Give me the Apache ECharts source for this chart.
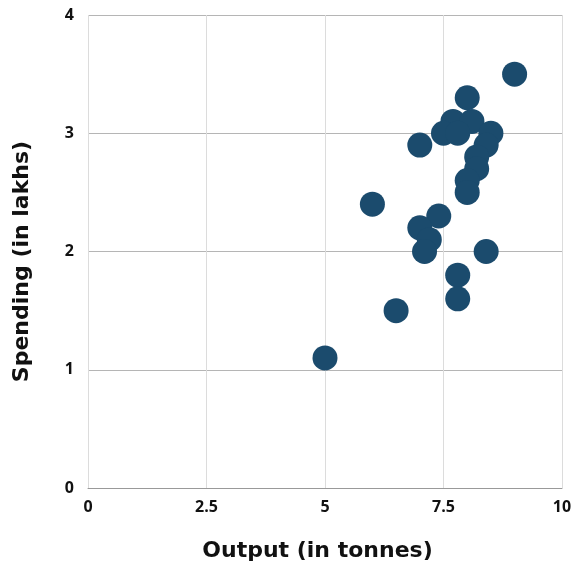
<!DOCTYPE html>
<html><head><meta charset="utf-8">
<script src="https://cdn.jsdelivr.net/npm/echarts@6/dist/echarts.min.js"></script>
<style>html,body{margin:0;padding:0;background:#fff}#c{width:573px;height:567px}</style>
</head><body><div id="c"></div>
<script>
const outputTonnes = [9.0, 8.0, 7.7, 8.1, 7.5, 7.8, 8.5, 8.4, 7.0, 8.2, 8.2, 8.0, 8.0, 6.0, 7.4, 7.0, 7.2, 7.1, 8.4, 7.8, 7.8, 6.5, 5.0];
const spendingLakhs = [3.5, 3.3, 3.1, 3.1, 3.0, 3.0, 3.0, 2.9, 2.9, 2.8, 2.7, 2.6, 2.5, 2.4, 2.3, 2.2, 2.1, 2.0, 2.0, 1.8, 1.6, 1.5, 1.1];
const xTitle = 'Output (in tonnes)';
const yTitle = 'Spending (in lakhs)';
const points = outputTonnes.map((x, i) => [x, spendingLakhs[i]]);
const font = 'Open Sans';
const titleFont = 'DejaVu Sans';
const chart = echarts.init(document.getElementById('c'));
chart.setOption({
  animation: false,
  grid: {left: 88, right: 11, top: 15, bottom: 79, containLabel: false, outerBoundsMode: 'none'},
  xAxis: {
    type: 'value', min: 0, max: 10, interval: 2.5,
    name: xTitle, nameLocation: 'middle', nameGap: 52,
    nameTextStyle: {fontFamily: titleFont, fontWeight: 'bold', fontSize: 22, color: '#111', padding: [0, 15, 0, 0]},
    axisLine: {show: true, lineStyle: {color: '#999', width: 1}},
    axisTick: {show: false},
    axisLabel: {fontFamily: font, fontWeight: 'bold', fontSize: 16, color: '#111', margin: 11},
    splitLine: {show: true, lineStyle: {color: '#dcdcdc', width: 1}}
  },
  yAxis: {
    type: 'value', min: 0, max: 4, interval: 1,
    name: yTitle, nameLocation: 'middle', nameGap: 55, nameRotate: 90,
    nameTextStyle: {fontFamily: titleFont, fontWeight: 'bold', fontSize: 22, color: '#111', padding: [0, 20, 0, 0]},
    axisLine: {show: false},
    axisTick: {show: false},
    axisLabel: {fontFamily: font, fontWeight: 'bold', fontSize: 16, color: '#111', margin: 14},
    splitLine: {show: true, lineStyle: {color: '#b5b5b5', width: 1}}
  },
  series: [{
    type: 'scatter', data: points, symbolSize: 25,
    itemStyle: {color: '#1b4b6d', opacity: 1}
  }]
});
</script></body></html>
